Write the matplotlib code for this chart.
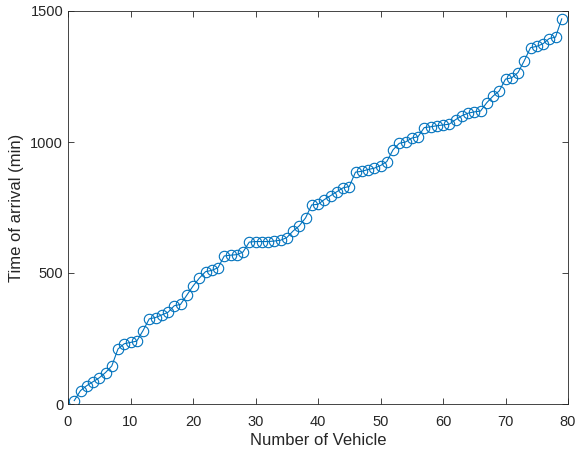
import matplotlib
matplotlib.use("Agg")
import matplotlib.pyplot as plt
import numpy as np

plt.rcParams['font.family'] = ['Liberation Sans', 'DejaVu Sans']

vehicle = np.arange(1, 80)
arrival = [
    13, 51, 70, 85, 100, 120, 145, 210, 230, 235,
    240, 280, 325, 330, 340, 350, 375, 380, 415, 450,
    480, 505, 510, 520, 565, 568, 570, 580, 618, 620,
    620, 620, 622, 625, 635, 660, 680, 710, 760, 762,
    780, 795, 810, 825, 830, 885, 888, 895, 900, 910,
    925, 970, 995, 1000, 1015, 1020, 1055, 1058, 1062, 1065,
    1068, 1085, 1100, 1110, 1115, 1118, 1150, 1175, 1195, 1240,
    1245, 1265, 1310, 1360, 1365, 1375, 1395, 1400, 1470,
]

xticks = [0, 10, 20, 30, 40, 50, 60, 70, 80]
yticks = [0, 500, 1000, 1500]

fig = plt.figure(figsize=(5.76, 4.57), dpi=100)
ax = fig.add_axes([68/576, 53/457, 500/576, 393/457])

ax.plot(vehicle, arrival, color='#0072BD', linewidth=0.8, marker='o',
        markersize=7.5, markerfacecolor='none', markeredgecolor='#0072BD',
        markeredgewidth=0.8)

ax.set_xlim(0, 80)
ax.set_ylim(0, 1500)
ax.set_xticks(xticks)
ax.set_yticks(yticks)
ax.tick_params(direction='in', top=True, right=True, length=4, width=0.6,
               colors='#262626', labelsize=10.5)
ax.tick_params(axis='x', pad=8)
for s in ax.spines.values():
    s.set_color('#262626')
    s.set_linewidth(0.6)

ax.set_xlabel('Number of Vehicle', fontsize=12, color='#262626', labelpad=3)
ax.set_ylabel('Time of arrival (min)', fontsize=12, color='#262626', labelpad=4.5)

fig.savefig('out.png', dpi=100)
